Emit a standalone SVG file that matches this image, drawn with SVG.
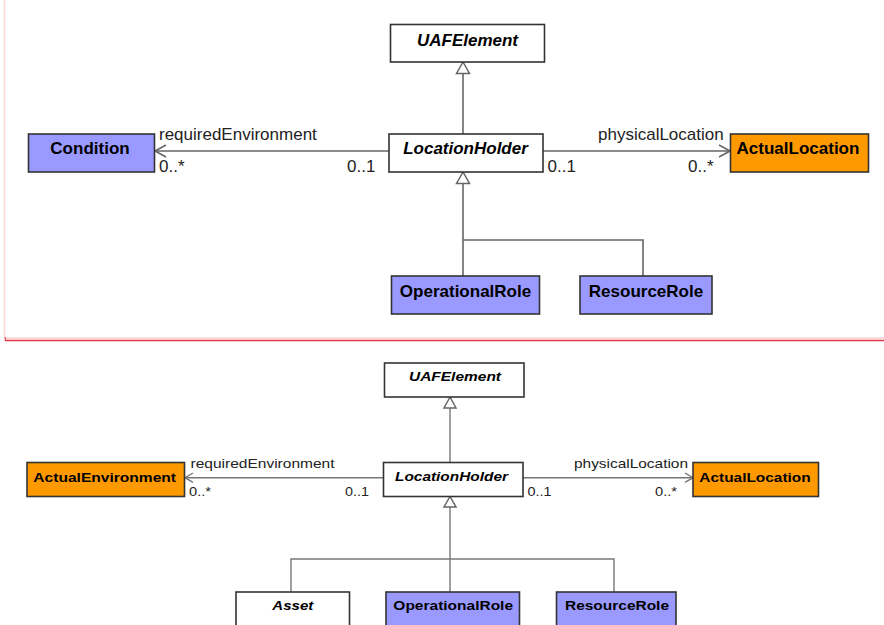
<svg xmlns="http://www.w3.org/2000/svg" width="884" height="625" viewBox="0 0 884 625">
<style>
.box{stroke:#333;stroke-width:1.6}
.w{fill:#fff}.b{fill:#9999ff}.o{fill:#ff9900}
.n1{font-family:"Liberation Sans",Arial,sans-serif;font-size:17px;font-weight:bold;fill:#000;text-anchor:middle}
.n2{font-family:"Liberation Sans",Arial,sans-serif;font-size:13.5px;font-weight:bold;fill:#000;text-anchor:middle}
.i{font-style:italic}
.l1{font-family:"Liberation Sans",Arial,sans-serif;font-size:17px;fill:#222}
.l2{font-family:"Liberation Sans",Arial,sans-serif;font-size:13px;fill:#222}
.c{fill:none;stroke:#666;stroke-width:1.6}
.c2{fill:none;stroke:#777;stroke-width:1.4}
.tri{fill:#fff;stroke:#666;stroke-width:1.5}
</style>
<rect x="0" y="0" width="884" height="625" fill="#fff"/>
<line x1="4.5" y1="0" x2="4.5" y2="339" stroke="#ffd6d6" stroke-width="1.5"/>
<line x1="5" y1="338.3" x2="884" y2="338.3" stroke="#ffd6d6" stroke-width="2"/>
<line x1="5" y1="340.5" x2="884" y2="340.5" stroke="#e03a45" stroke-width="1.4"/>
<line x1="5.3" y1="337" x2="5.3" y2="341" stroke="#e03a45" stroke-width="1"/>

<g id="connectors">
<path class="c" d="M463 134 V73"/>
<polygon class="tri" points="463,62 456.5,73.5 469.5,73.5"/>
<path class="c" d="M463 276 V183"/>
<polygon class="tri" points="463,172 456.5,183.5 469.5,183.5"/>
<path class="c" d="M463 240 H643 V276"/>
<path class="c" d="M389 151 H155"/>
<path class="c" d="M166 145 L155 151 L166 157"/>
<path class="c" d="M543 151 H730"/>
<path class="c" d="M719 145 L730 151 L719 157"/>
<path class="c2" d="M450 462 V408"/>
<polygon class="tri" points="450,397 444,408 456,408"/>
<path class="c2" d="M450 592 V507"/>
<polygon class="tri" points="450,496.5 444,507 456,507"/>
<path class="c2" d="M291 592 V559 H614 V592"/>
<path class="c2" d="M383 477.7 H185"/>
<path class="c2" d="M193 473 L185 477.7 L193 482.4"/>
<path class="c2" d="M523 477.7 H693"/>
<path class="c2" d="M685 473 L693 477.7 L685 482.4"/>
</g>

<g class="l1">
<text x="159" y="140">requiredEnvironment</text>
<text x="159" y="172">0..*</text>
<text x="347" y="172">0..1</text>
<text x="598" y="140">physicalLocation</text>
<text x="547.5" y="172">0..1</text>
<text x="688" y="172">0..*</text>
</g>
<g class="l2">
<text x="190.5" y="467.5" textLength="144" lengthAdjust="spacingAndGlyphs">requiredEnvironment</text>
<text x="189" y="496" textLength="22" lengthAdjust="spacingAndGlyphs">0..*</text>
<text x="345" y="496" textLength="24" lengthAdjust="spacingAndGlyphs">0..1</text>
<text x="574" y="467.5" textLength="114" lengthAdjust="spacingAndGlyphs">physicalLocation</text>
<text x="527.5" y="496" textLength="24" lengthAdjust="spacingAndGlyphs">0..1</text>
<text x="655" y="496" textLength="22" lengthAdjust="spacingAndGlyphs">0..*</text>
</g>

<g id="uaf1"><rect class="box w" x="390.5" y="24.5" width="154" height="37.5"/><text class="n1 i" x="467.5" y="45.5">UAFElement</text></g>
<g id="lh1"><rect class="box w" x="389" y="134" width="154" height="38"/><text class="n1 i" x="465.5" y="154">LocationHolder</text></g>
<g id="cond1"><rect class="box b" x="28.5" y="134" width="126" height="38"/><text class="n1" x="90" y="154">Condition</text></g>
<g id="al1"><rect class="box o" x="730.5" y="134" width="138" height="38"/><text class="n1" x="798" y="154">ActualLocation</text></g>
<g id="or1"><rect class="box b" x="391.5" y="276" width="148" height="38"/><text class="n1" x="465.5" y="297">OperationalRole</text></g>
<g id="rr1"><rect class="box b" x="580" y="276" width="132" height="38"/><text class="n1" x="646" y="297">ResourceRole</text></g>

<g id="uaf2"><rect class="box w" x="384.5" y="363" width="139.5" height="34"/><text class="n2 i" x="455" y="381" textLength="92" lengthAdjust="spacingAndGlyphs">UAFElement</text></g>
<g id="lh2"><rect class="box w" x="383.5" y="462.5" width="139.5" height="34"/><text class="n2 i" x="451.5" y="481" textLength="113" lengthAdjust="spacingAndGlyphs">LocationHolder</text></g>
<g id="ae2"><rect class="box o" x="27" y="462.5" width="157.5" height="34"/><text class="n2" x="104.7" y="481.5" textLength="142.7" lengthAdjust="spacingAndGlyphs">ActualEnvironment</text></g>
<g id="al2"><rect class="box o" x="693" y="462.5" width="125.5" height="34"/><text class="n2" x="755" y="481.5" textLength="111.4" lengthAdjust="spacingAndGlyphs">ActualLocation</text></g>
<g id="asset2"><rect class="box w" x="236" y="592" width="113.5" height="40"/><text class="n2 i" x="292.8" y="609.5" textLength="41" lengthAdjust="spacingAndGlyphs">Asset</text></g>
<g id="or2"><rect class="box b" x="386" y="592" width="133.5" height="40"/><text class="n2" x="453.2" y="609.5" textLength="119.7" lengthAdjust="spacingAndGlyphs">OperationalRole</text></g>
<g id="rr2"><rect class="box b" x="556.5" y="592" width="119.5" height="40"/><text class="n2" x="617" y="609.5" textLength="104" lengthAdjust="spacingAndGlyphs">ResourceRole</text></g>
</svg>
